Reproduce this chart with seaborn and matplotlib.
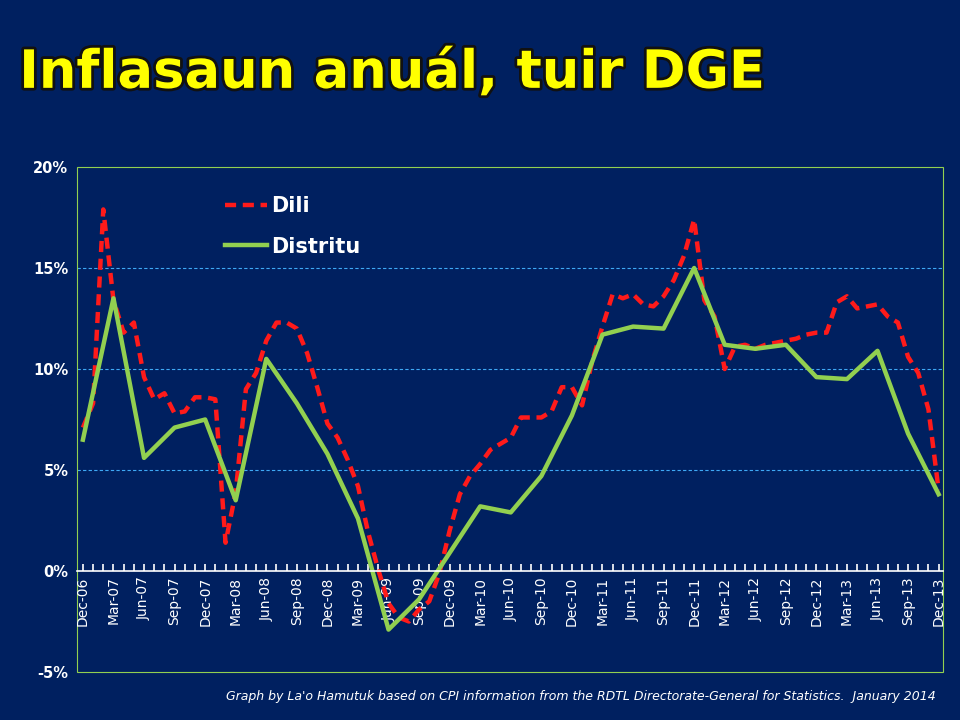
import numpy as np
import pandas as pd
import matplotlib
matplotlib.use("Agg")
import matplotlib.pyplot as plt
import matplotlib.patheffects as pe
from matplotlib.patches import Rectangle
import seaborn as sns

quarter_labels = ["Dec-06","Mar-07","Jun-07","Sep-07","Dec-07","Mar-08","Jun-08","Sep-08",
                  "Dec-08","Mar-09","Jun-09","Sep-09","Dec-09","Mar-10","Jun-10","Sep-10",
                  "Dec-10","Mar-11","Jun-11","Sep-11","Dec-11","Mar-12","Jun-12","Sep-12",
                  "Dec-12","Mar-13","Jun-13","Sep-13","Dec-13"]
# monthly Dili inflation (%), Dec-06 .. Dec-13
dili = [7.1, 8.3, 17.9, 13.4, 11.8, 12.3, 9.6, 8.5, 8.8, 7.8, 7.9, 8.6, 8.6,
        8.5, 1.4, 3.9, 9.0, 9.8, 11.4, 12.3, 12.3, 12.0, 10.8, 9.1, 7.3,
        6.6, 5.5, 4.2, 1.9, 0.05, -1.6, -2.3, -2.5, -1.9, -1.5, -0.1, 2.0,
        3.8, 4.7, 5.3, 6.0, 6.3, 6.6, 7.6, 7.6, 7.6, 7.9, 9.1, 9.1,
        8.2, 10.4, 12.1, 13.7, 13.5, 13.7, 13.2, 13.1, 13.6, 14.4, 15.6, 17.4,
        13.4, 12.6, 10.0, 11.1, 11.2, 11.0, 11.2, 11.3, 11.4, 11.5, 11.7, 11.8,
        11.8, 13.3, 13.6, 13.0, 13.1, 13.2, 12.6, 12.3, 10.6, 9.8, 8.0, 4.0]
# quarterly Distritu inflation (%)
distritu = [6.5, 13.5, 5.6, 7.1, 7.5, 3.5, 10.5, 8.3, 5.8, 2.6, -2.9, -1.4, 0.9,
            3.2, 2.9, 4.7, 7.7, 11.7, 12.1, 12.0, 15.0, 11.2, 11.0, 11.2, 9.6,
            9.5, 10.9, 6.8, 3.8]

bg = "#002060"
df_dili = pd.DataFrame({"month": np.arange(len(dili)), "v": dili})
df_dis = pd.DataFrame({"month": np.arange(len(distritu)) * 3, "v": distritu})

fig = plt.figure(figsize=(9.6, 7.2), dpi=100, facecolor=bg)
ax = fig.add_axes([0.080, 1 - 672/720, 0.902, (672 - 167)/720])
ax.set_facecolor(bg)

sns.lineplot(data=df_dili, x="month", y="v", ax=ax, color="#ff1a1a", lw=3.2,
             linestyle=(0, (2.5, 1.5)), label="Dili")
sns.lineplot(data=df_dis, x="month", y="v", ax=ax, color="#92d050", lw=3.2,
             label="Distritu")

ax.set_xlim(-0.6, 84.4)
ax.set_ylim(-5, 20)
ax.set_yticks([-5, 0, 5, 10, 15, 20])
ax.set_yticklabels([f"{t}%" for t in [-5, 0, 5, 10, 15, 20]], color="white",
                   fontsize=10.5, fontweight="bold")
for y in [5, 10, 15]:
    ax.axhline(y, color="#3fa9f5", lw=0.8, ls=(0, (3, 2)), zorder=0)
ax.set_xticks(np.arange(0, 85, 3))
ax.set_xticklabels(quarter_labels, color="white", fontsize=10.5, fontweight="bold")
ax.set_xticks(np.arange(0, 85, 1), minor=True)
ax.tick_params(axis="x", which="both", colors="white", direction="in", length=5,
               pad=4, width=1.2)
ax.tick_params(axis="x", which="major", labelrotation=90)
for lab in ax.get_xticklabels():
    lab.set_rotation(90)
    lab.set_ha("center")
    lab.set_va("top")
ax.tick_params(axis="y", length=0, pad=6)
for s in ["top", "right", "left"]:
    ax.spines[s].set_visible(False)
ax.spines["bottom"].set_position(("data", 0))
ax.spines["bottom"].set_color("white")
ax.spines["bottom"].set_linewidth(1.2)
ax.add_patch(Rectangle((0, 0), 1, 1, transform=ax.transAxes, fill=False,
                       edgecolor="#92d050", lw=0.8, clip_on=False))
ax.set_xlabel("")
ax.set_ylabel("")

leg = ax.legend(loc="upper left", bbox_to_anchor=(0.15, 0.98), frameon=False,
                fontsize=15, labelspacing=1.0, handlelength=2.0, handletextpad=0.2)
for t in leg.get_texts():
    t.set_color("white")
    t.set_fontweight("bold")

fig.text(0.02, 0.878, "Inflasaun anuál, tuir DGE", color="#ffff00", fontsize=38,
         fontweight="bold", ha="left", va="baseline",
         path_effects=[pe.withStroke(linewidth=4, foreground="#111111")])
fig.text(0.975, 0.028, "Graph by La'o Hamutuk based on CPI information from the RDTL "
         "Directorate-General for Statistics.  January 2014", color="white",
         fontsize=9, style="italic", ha="right", va="baseline")

fig.savefig("out.png", dpi=100, facecolor=bg)
